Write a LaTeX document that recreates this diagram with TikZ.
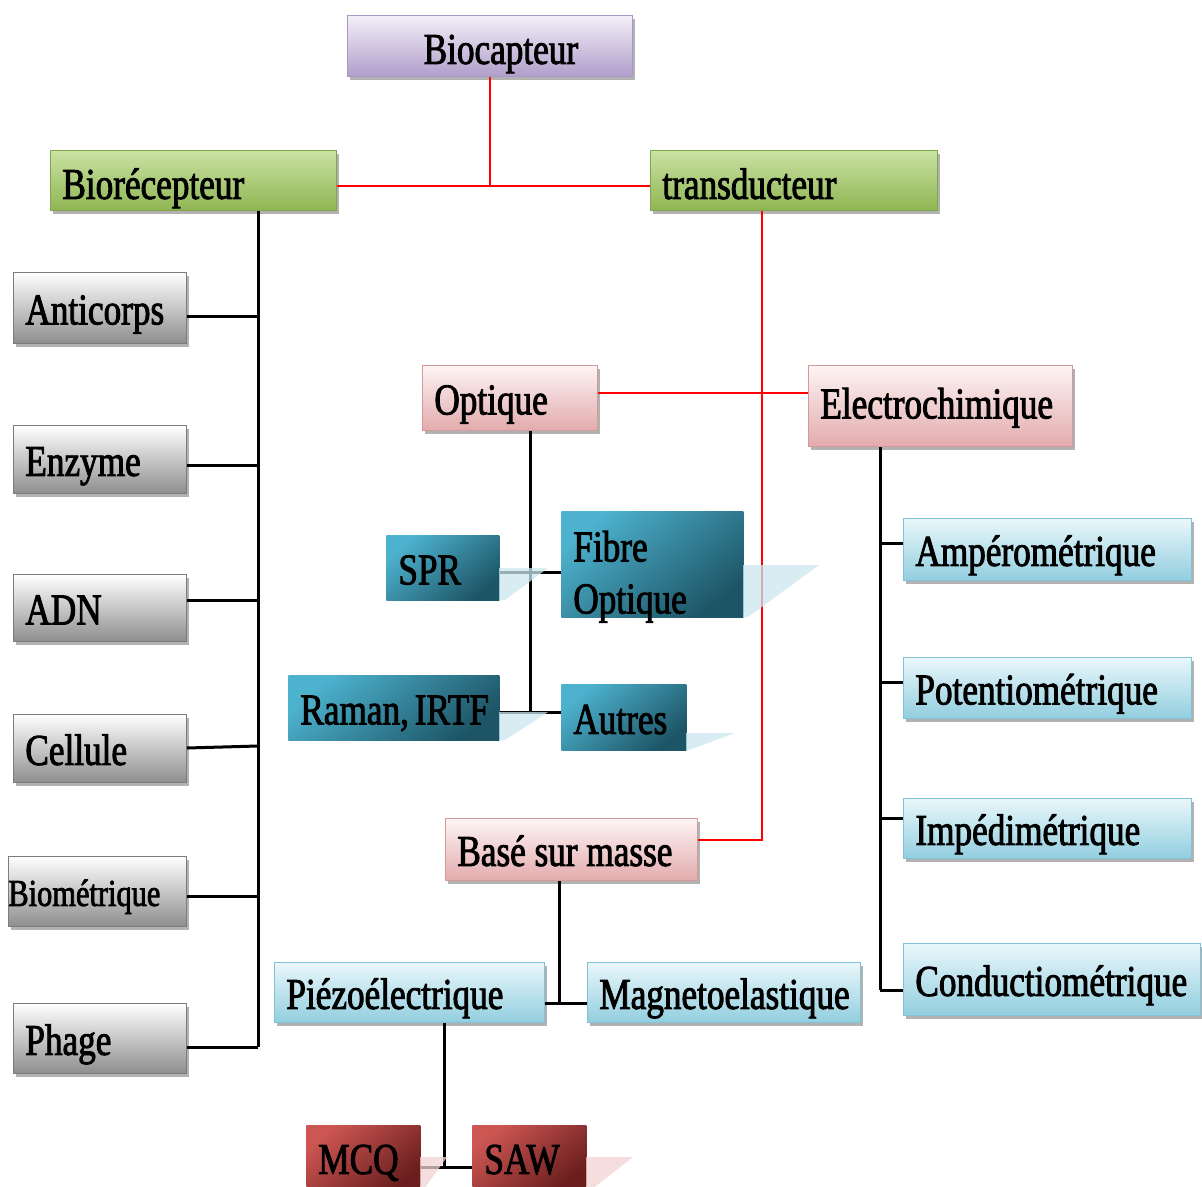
\documentclass[tikz,border=0pt]{standalone}
\usepackage{fontspec}
\setmainfont{Liberation Serif}[FakeStretch=0.8, FakeBold=2]
\usetikzlibrary{shadows}

% box fills
\definecolor{lilacT}{HTML}{F4F0F8}
\definecolor{lilacD}{HTML}{B09ECB}
\definecolor{lilacB}{HTML}{A898C2}
\definecolor{leafT}{HTML}{CBE2A4}
\definecolor{leafD}{HTML}{8FB552}
\definecolor{leafB}{HTML}{7FA64A}
\definecolor{greyT}{HTML}{FFFFFF}
\definecolor{greyD}{HTML}{8E8E8E}
\definecolor{greyB}{HTML}{7C7C7C}
\definecolor{roseT}{HTML}{FDF4F4}
\definecolor{roseD}{HTML}{E3ABAD}
\definecolor{roseB}{HTML}{D6999B}
\definecolor{skyT}{HTML}{EAF7FB}
\definecolor{skyD}{HTML}{92CEDF}
\definecolor{skyB}{HTML}{80C2D6}
\definecolor{tealT}{HTML}{4DB2CE}
\definecolor{tealD}{HTML}{1D5566}
\definecolor{brickT}{HTML}{CC5652}
\definecolor{brickD}{HTML}{6A1E1E}
\definecolor{glareB}{HTML}{CBE6F0}
\definecolor{glareR}{HTML}{F3D3D3}

\tikzset{
  card/.style={rectangle, inner xsep=12pt, inner ysep=0pt, align=flush left,
    text height=33pt, text depth=0pt, font=\fontsize{44}{52}\selectfont,
    line width=0.8pt},
  soft/.style={drop shadow={shadow xshift=3pt, shadow yshift=-4pt,
    opacity=0.3, fill=black}},
  lilac/.style={card, soft, draw=lilacB, top color=lilacT, bottom color=lilacD},
  leaf/.style={card, soft, draw=leafB, top color=leafT, bottom color=leafD},
  grey/.style={card, soft, draw=greyB, top color=greyT, bottom color=greyD},
  rose/.style={card, soft, draw=roseB, top color=roseT, bottom color=roseD},
  sky/.style={card, soft, draw=skyB, top color=skyT, bottom color=skyD},
  teal/.style={card, top color=tealT, bottom color=tealD, shading angle=40},
  brick/.style={card, top color=brickT, bottom color=brickD, shading angle=40},
  blk/.style={line width=3pt, black},
  rd/.style={line width=2.5pt, red},
  glare/.style={fill opacity=0.75, draw=none},
}

% \mkbox{style}{name}{left}{top}{right}{bottom}{text}, pixel-like units
\newcommand\mkbox[7]{%
  \pgfmathsetmacro\bxw{#5-#3-24}%
  \pgfmathsetmacro\bxh{#6-#4}%
  \node[#1, anchor=north west, text width=\bxw pt, minimum height=\bxh pt]
    (#2) at (#3,#4) {#7};}

\begin{document}
\begin{tikzpicture}[x=1pt, y=-1pt]
\useasboundingbox (0,0) rectangle (1202,1186);
\fill[white] (0,0) rectangle (1202,1186);

% top level
\mkbox{lilac, align=center, text height=36pt}{bioc}{347}{15}{632}{76}{\hspace*{22pt}Biocapteur}
\mkbox{leaf, text height=37pt}{biorec}{50}{150}{336}{210}{Biorécepteur}
\mkbox{leaf, text height=37pt}{trans}{650}{150}{937}{210}{transducteur}

% bio-receptors
\mkbox{grey}{anti}{13}{272}{186}{343}{Anticorps}
\mkbox{grey}{enz}{13}{425}{186}{493}{Enzyme}
\mkbox{grey}{adn}{13}{574}{186}{641}{ADN}
\mkbox{grey}{cell}{13}{714}{186}{782}{Cellule}
\mkbox{grey, font=\fontsize{38}{44}\selectfont, text height=29pt}{biom}{8}{856}{186}{926}{\hspace*{-12pt}Biométrique}
\mkbox{grey}{phage}{13}{1003}{186}{1073}{Phage}

% transducer families
\mkbox{rose}{opt}{422}{365}{597}{430}{Optique}
\mkbox{rose, text height=25pt}{elec}{808}{365}{1072}{446}{Electrochimique}
\mkbox{rose}{base}{445}{818}{697}{880}{Basé sur masse}

% optical
\mkbox{teal}{spr}{386}{535}{499}{600}{SPR}
\mkbox{teal, text height=29pt, text depth=35pt}{fibre}{561}{511}{743}{617}{Fibre\\Optique}
\mkbox{teal}{raman}{288}{675}{499}{740}{Raman,~IRTF}
\mkbox{teal}{autres}{561}{684}{686}{750}{Autres}

% electrochemical
\mkbox{sky}{amp}{903}{518}{1191}{580}{Ampérométrique}
\mkbox{sky}{pot}{903}{657}{1191}{718}{Potentiométrique}
\mkbox{sky}{imp}{903}{798}{1191}{858}{Impédimétrique}
\mkbox{sky}{cond}{903}{943}{1200}{1015}{Conductiométrique}

% mass based
\mkbox{sky}{piezo}{274}{962}{544}{1022}{Piézoélectrique}
\mkbox{sky}{magneto}{587}{962}{860}{1022}{Magnetoelastique}
\mkbox{brick}{mcq}{306}{1125}{420}{1189}{MCQ}
\mkbox{brick}{saw}{472}{1125}{586}{1189}{SAW}

% red links
\draw[rd] (bioc.south) -- (bioc.south |- 0,186);
\draw[rd] (biorec.east |- 0,186) -- (trans.west |- 0,186);
\draw[rd] (trans.south -| 762,0) -- (762,840) -- (base.east |- 0,840);
\draw[rd] (opt.east |- 0,393) -- (elec.west |- 0,393);

% bio-receptor spine
\coordinate (lsp) at (258,1047);
\draw[blk] (biorec.south -| lsp) -- (lsp);
\draw[blk] (anti.east |- 0,316) -- (lsp |- 0,316);
\draw[blk] (enz.east |- 0,465) -- (lsp |- 0,465);
\draw[blk] (adn.east |- 0,600) -- (lsp |- 0,600);
\draw[blk] (cell.east |- 0,748) -- (lsp |- 0,746);
\draw[blk] (biom.east |- 0,896) -- (lsp |- 0,896);
\draw[blk] (phage.east |- 0,1047) -- (lsp);

% optical spine
\coordinate (osp) at (530,712);
\draw[blk] (opt.south -| osp) -- (osp);
\draw[blk] (spr.east |- 0,572) -- (fibre.west |- 0,572);
\draw[blk] (raman.east |- 0,712) -- (autres.west |- 0,712);

% electrochemical spine
\coordinate (esp) at (880,990);
\draw[blk] (elec.south -| esp) -- (esp);
\draw[blk] (esp |- 0,543) -- (amp.west |- 0,543);
\draw[blk] (esp |- 0,682) -- (pot.west |- 0,682);
\draw[blk] (esp |- 0,818) -- (imp.west |- 0,818);
\draw[blk] (esp) -- (cond.west |- esp);

% mass-based spines
\coordinate (msp) at (559,1003);
\draw[blk] (base.south -| msp) -- (msp);
\draw[blk] (piezo.east |- msp) -- (magneto.west |- msp);
\coordinate (psp) at (444,1167);
\draw[blk] (piezo.south -| psp) -- (psp);
\draw[blk] (mcq.east |- psp) -- (saw.west |- psp);

% glossy reflections beside the dark boxes
\fill[glare, glareB] (499,568) -- (548,568) -- (505,600) -- (499,600) -- cycle;
\fill[glare, glareB] (743,565) -- (819,565) -- (748,617) -- (743,617) -- cycle;
\fill[glare, glareB] (499,712) -- (548,712) -- (505,740) -- (499,740) -- cycle;
\fill[glare, glareB] (686,733) -- (735,733) -- (689,750) -- (686,750) -- cycle;
\fill[glare, glareR] (420,1157) -- (447,1157) -- (424,1189) -- (420,1189) -- cycle;
\fill[glare, glareR] (586,1157) -- (633,1157) -- (592,1189) -- (586,1189) -- cycle;
\end{tikzpicture}
\end{document}
